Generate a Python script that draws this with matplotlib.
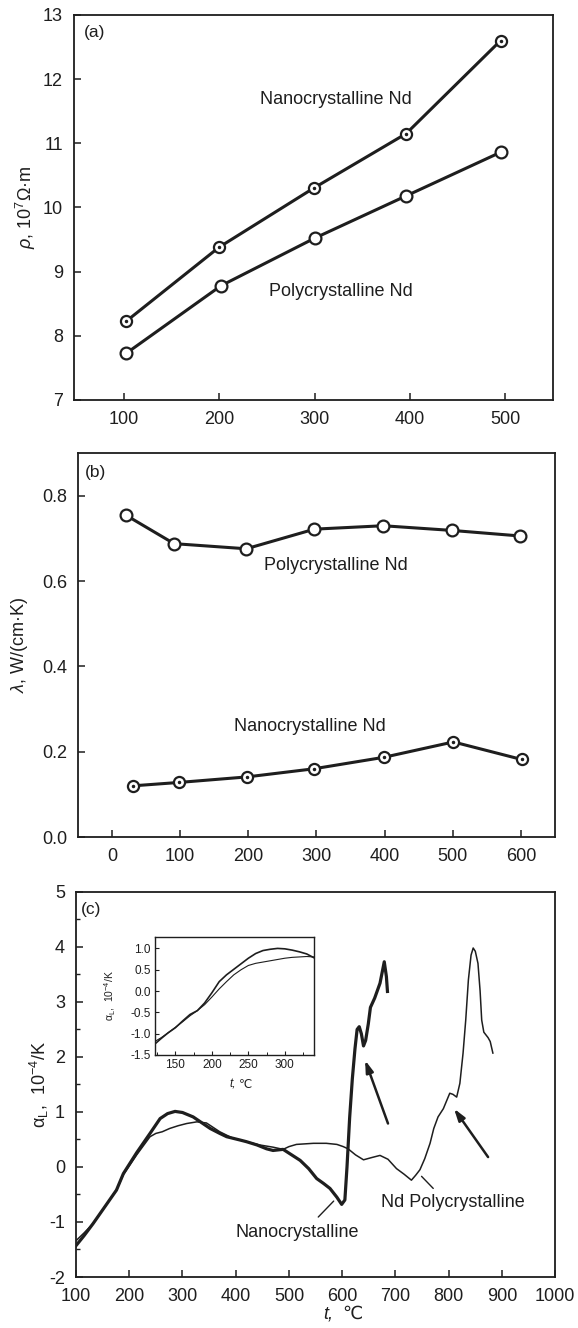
import matplotlib
matplotlib.use("Agg")
import matplotlib.pyplot as plt
from matplotlib.ticker import MultipleLocator, FormatStrFormatter

plt.rcParams['font.family'] = ['Liberation Sans', 'DejaVu Sans']
plt.rcParams['mathtext.fontset'] = 'custom'
plt.rcParams['mathtext.rm'] = 'Liberation Sans'
plt.rcParams['mathtext.it'] = 'Liberation Sans:italic'
plt.rcParams['axes.unicode_minus'] = False

ink = '#1e1e1e'

# (a) resistivity
t_a_nano = [103, 200, 299, 396, 495]
rho_nano = [8.23, 9.38, 10.30, 11.15, 12.60]
t_a_poly = [103, 202, 300, 396, 495]
rho_poly = [7.73, 8.78, 9.52, 10.18, 10.86]

# (b) thermal conductivity
t_b_poly = [20, 91, 197, 297, 398, 499, 599]
lam_poly = [0.755, 0.688, 0.676, 0.722, 0.730, 0.719, 0.706]
t_b_nano = [30, 98, 198, 296, 399, 501, 601]
lam_nano = [0.120, 0.128, 0.141, 0.160, 0.187, 0.223, 0.182]

# (c) thermal expansion coefficient
t_c_nano = [100, 115, 132, 158, 176, 189, 214, 239, 258, 272,
            286, 300, 320, 352, 370, 383, 408, 420, 440, 458,
            470, 489, 505, 521, 537, 552, 565, 577, 590, 599,
            605, 609, 614, 619, 624, 628, 632, 636, 640, 644,
            649, 653, 661, 671, 679, 683, 685]
a_c_nano = [-1.43, -1.25, -1.03, -0.67, -0.42, -0.12, 0.26, 0.61, 0.88, 0.97,
            1.01, 0.99, 0.91, 0.70, 0.61, 0.55, 0.49, 0.46, 0.40, 0.33,
            0.30, 0.32, 0.22, 0.12, -0.03, -0.21, -0.30, -0.39, -0.55, -0.68,
            -0.60, 0.0, 0.9, 1.6, 2.15, 2.5, 2.55, 2.42, 2.2, 2.3,
            2.6, 2.9, 3.07, 3.34, 3.73, 3.46, 3.19]
t_c_poly = [100, 115, 132, 158, 176, 189, 214, 239,
            250, 262, 276, 292, 308, 327, 345, 370, 395, 420,
            445, 470, 489, 500, 514, 530, 546, 570, 590, 602,
            611, 625, 640, 655, 671, 686, 702, 716, 730, 738,
            746, 755, 765, 772, 780, 790, 802, 808, 815, 821,
            827, 832, 837, 842, 846, 850, 855, 859, 862, 866,
            870, 874, 878, 883]
a_c_poly = [-1.34, -1.2, -1.03, -0.67, -0.42, -0.14, 0.22, 0.55,
            0.61, 0.64, 0.70, 0.75, 0.79, 0.82, 0.80, 0.64, 0.52, 0.46,
            0.40, 0.36, 0.32, 0.37, 0.41, 0.42, 0.43, 0.43, 0.41, 0.37,
            0.33, 0.22, 0.13, 0.17, 0.21, 0.14, -0.03, -0.13, -0.24, -0.15,
            -0.05, 0.15, 0.43, 0.7, 0.91, 1.06, 1.34, 1.32, 1.27, 1.52,
            2.07, 2.67, 3.4, 3.85, 3.98, 3.92, 3.7, 3.2, 2.67, 2.45,
            2.4, 2.35, 2.28, 2.07]

# inset (c), low temperature range
t_in = [122, 130, 140, 150, 160, 170, 180, 190, 200, 210, 220, 230,
        240, 250, 260, 270, 280, 290, 300, 310, 320, 330, 340]
nano_in = [-1.24, -1.12, -0.98, -0.86, -0.70, -0.55, -0.46, -0.28, -0.04, 0.22, 0.38, 0.51,
           0.64, 0.77, 0.88, 0.95, 0.98, 1.0, 0.99, 0.96, 0.92, 0.87, 0.78]
poly_in = [-1.18, -1.10, -0.98, -0.85, -0.72, -0.58, -0.46, -0.32, -0.14, 0.05, 0.22, 0.38,
           0.50, 0.60, 0.65, 0.68, 0.71, 0.74, 0.77, 0.79, 0.80, 0.81, 0.80]


def style(ax, fs=13, length=5, pad=8):
    for s in ax.spines.values():
        s.set_linewidth(1.3)
        s.set_color(ink)
    ax.tick_params(direction='in', length=length, width=1.1, labelsize=fs,
                   pad=pad, colors=ink)


def dotted_circles(ax, x, y):
    ax.plot(x, y, '-', color=ink, lw=2.2, marker='o', ms=8, mfc='white',
            mec=ink, mew=1.6)
    ax.plot(x, y, '.', color=ink, ms=3, lw=0)


def open_circles(ax, x, y):
    ax.plot(x, y, '-', color=ink, lw=2.2, marker='o', ms=8.5, mfc='white',
            mec=ink, mew=1.6)


def t_label(ax, x, y, fs):
    # italic t, then the Celsius sign (plain text so the font fallback works)
    ax.text(x, y, 't,', transform=ax.transAxes, fontsize=fs, style='italic',
            ha='right', va='top', color=ink)
    ax.text(x + 0.018, y, '℃', transform=ax.transAxes, fontsize=fs,
            ha='left', va='top', color=ink)


fig = plt.figure(figsize=(5.78, 13.28), dpi=100)

# ---- (a)
ax1 = fig.add_axes([0.128, 0.6988, 0.829, 0.290])
style(ax1)
dotted_circles(ax1, t_a_nano, rho_nano)
open_circles(ax1, t_a_poly, rho_poly)
ax1.set_xlim(48, 550)
ax1.set_ylim(7, 13)
ax1.set_xticks([100, 200, 300, 400, 500])
ax1.set_yticks(range(7, 14))
ax1.text(322, 11.68, 'Nanocrystalline Nd', fontsize=13, ha='center', va='center', color=ink)
ax1.text(328, 8.69, 'Polycrystalline Nd', fontsize=13, ha='center', va='center', color=ink)
ax1.text(0.02, 0.953, '(a)', transform=ax1.transAxes, fontsize=12.5, ha='left', va='center', color=ink)
ax1.set_ylabel(r'$\rho$, 10$^7$Ω·m', fontsize=13, color=ink)
ax1.yaxis.set_label_coords(-0.075, 0.5)

# ---- (b)
ax2 = fig.add_axes([0.135, 0.3697, 0.825, 0.289])
style(ax2)
open_circles(ax2, t_b_poly, lam_poly)
dotted_circles(ax2, t_b_nano, lam_nano)
ax2.set_xlim(-50, 650)
ax2.set_ylim(0, 0.9)
ax2.set_xticks(range(0, 700, 100))
ax2.set_yticks([0.0, 0.2, 0.4, 0.6, 0.8])
ax2.yaxis.set_major_formatter(FormatStrFormatter('%.1f'))
ax2.text(329, 0.636, 'Polycrystalline Nd', fontsize=13, ha='center', va='center', color=ink)
ax2.text(290, 0.26, 'Nanocrystalline Nd', fontsize=13, ha='center', va='center', color=ink)
ax2.text(0.015, 0.951, '(b)', transform=ax2.transAxes, fontsize=12.5, ha='left', va='center', color=ink)
ax2.set_ylabel(r'$\lambda$, W/(cm·K)', fontsize=13, color=ink)
ax2.yaxis.set_label_coords(-0.10, 0.5)

# ---- (c)
ax3 = fig.add_axes([0.1315, 0.0384, 0.829, 0.290])
style(ax3)
ax3.plot(t_c_nano, a_c_nano, '-', color=ink, lw=2.3)
ax3.plot(t_c_poly, a_c_poly, '-', color=ink, lw=1.1)
ax3.set_xlim(100, 1000)
ax3.set_ylim(-2, 5)
ax3.set_xticks(range(100, 1100, 100))
ax3.set_yticks(range(-2, 6))
ax3.yaxis.set_minor_locator(MultipleLocator(0.5))
ax3.tick_params(which='minor', direction='in', length=3, width=1.0, colors=ink)
ax3.text(0.01, 0.955, '(c)', transform=ax3.transAxes, fontsize=12.5, ha='left', va='center', color=ink)
ax3.set_ylabel(r'α$_\mathrm{L}$,  10$^{-4}$/K', fontsize=13, color=ink)
ax3.yaxis.set_label_coords(-0.052, 0.5)
t_label(ax3, 0.537, -0.075, 13)

arrow = dict(arrowstyle='-|>,head_length=0.7,head_width=0.22', color=ink, lw=1.8,
             shrinkA=0, shrinkB=0)
ax3.annotate('', xy=(643, 1.94), xytext=(686, 0.79), arrowprops=arrow)
ax3.annotate('', xy=(810, 1.06), xytext=(874, 0.18), arrowprops=arrow)
lead = dict(arrowstyle='-', color=ink, lw=1.0, shrinkA=0, shrinkB=0)
ax3.text(808, -0.64, 'Nd Polycrystalline', fontsize=13, ha='center', va='center', color=ink)
ax3.annotate('', xy=(771, -0.39), xytext=(749, -0.17), arrowprops=lead)
ax3.text(516, -1.2, 'Nanocrystalline', fontsize=13, ha='center', va='center', color=ink)
ax3.annotate('', xy=(584, -0.62), xytext=(555, -0.91), arrowprops=lead)

# inset
axi = fig.add_axes([0.2682, 0.2056, 0.2751, 0.0889])
for s in axi.spines.values():
    s.set_linewidth(1.0)
    s.set_color(ink)
axi.tick_params(direction='in', length=3, width=0.8, labelsize=8.5, pad=3, colors=ink)
axi.tick_params(which='minor', direction='in', length=2, width=0.7, colors=ink)
axi.plot(t_in, nano_in, '-', color=ink, lw=1.2)
axi.plot(t_in, poly_in, '-', color=ink, lw=0.8)
axi.set_xlim(122, 340)
axi.set_ylim(-1.5, 1.27)
axi.set_xticks([150, 200, 250, 300])
axi.xaxis.set_minor_locator(MultipleLocator(25))
axi.set_yticks([-1.5, -1.0, -0.5, 0.0, 0.5, 1.0])
axi.yaxis.set_major_formatter(FormatStrFormatter('%.1f'))
axi.set_ylabel(r'α$_\mathrm{L}$,  10$^{-4}$/K', fontsize=7.5, color=ink)
axi.yaxis.set_label_coords(-0.23, 0.5)
t_label(axi, 0.51, -0.2, 8.5)

fig.savefig('out.png', dpi=100)
